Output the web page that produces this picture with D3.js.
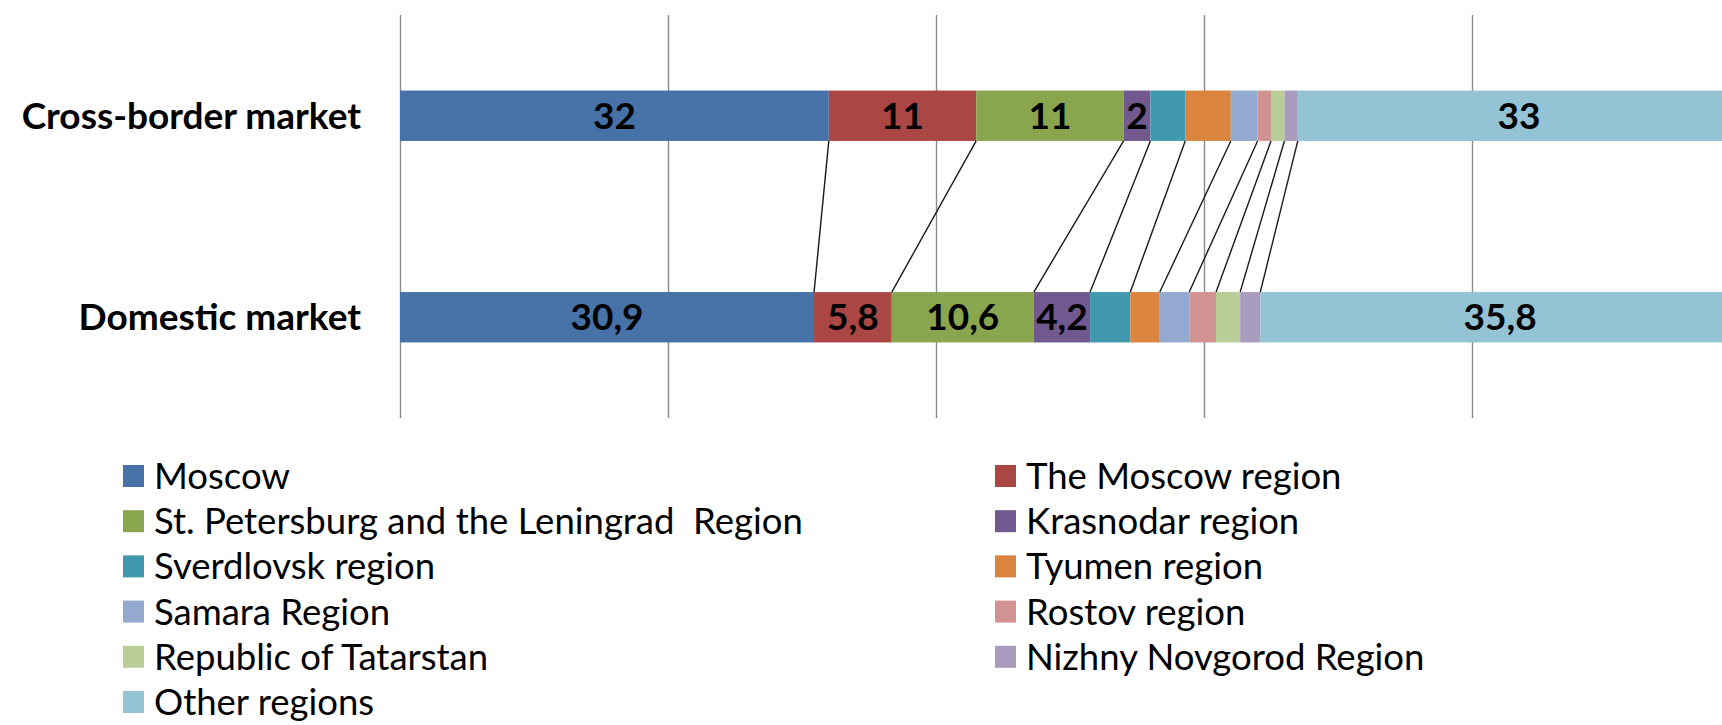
<!DOCTYPE html>
<html>
<head>
<meta charset="utf-8">
<script src="https://cdn.jsdelivr.net/npm/d3@7"></script>
<style>
  body { margin: 0; background: #fff; }
  text { font-family: Lato, "Open Sans", sans-serif; }
</style>
</head>
<body>
<div id="chart"></div>
<script>
// market shares by region, %
let markets = ["Cross-border market", "Domestic market"];
let regions = ["Moscow", "The Moscow region", "St. Petersburg and the Leningrad\u00a0 Region",
    "Krasnodar region", "Sverdlovsk region", "Tyumen region", "Samara Region",
    "Rostov region", "Republic of Tatarstan", "Nizhny Novgorod Region", "Other regions"];
let crossBorder = [32, 11, 11, 2, 2.6, 3.4, 2, 1, 1, 1, 33];
let domestic = [30.9, 5.8, 10.6, 4.2, 3.0, 2.2, 2.2, 2.0, 1.8, 1.5, 35.8];
// only these series carry a number on the bar
let labelled = ["Moscow", "The Moscow region", "St. Petersburg and the Leningrad\u00a0 Region",
    "Krasnodar region", "Other regions"];
let colors = ["#4672a8", "#aa4643", "#89a54e", "#71588f", "#4198af", "#db843d",
    "#93a9cf", "#d19392", "#b9cd96", "#a99bbd", "#93c3d4"];

let width = 1722;
let height = 725;

// build the rows the stack layout wants
let rows = [crossBorder, domestic].map(function (vals, i) {
    let r = {market: markets[i]};
    regions.forEach(function (k, j) { r[k] = vals[j]; });
    return r;
});
let series = d3.stack().keys(regions)(rows);

let x = d3.scaleLinear().domain([0, 100]).range([400, 1740]);
let y = d3.scaleBand().domain(markets).range([15, 418])
    .paddingInner(0.75).paddingOuter(0.375);
let color = d3.scaleOrdinal().domain(regions).range(colors);
let fmt = d3.formatLocale({decimal: ",", thousands: " ", grouping: [3], currency: ["", ""]}).format("~g");

let svg = d3.select("#chart").append("svg")
    .attr("width", width)
    .attr("height", height);

// vertical gridlines
let grid = svg.append("g")
    .attr("transform", "translate(0," + 418 + ")")
    .call(d3.axisBottom(x).tickValues([0, 20, 40, 60, 80, 100]).tickSize(-403).tickFormat(""));
grid.select(".domain").remove();
grid.selectAll("line").attr("stroke", "#8a8a8a").attr("stroke-width", 1.4);

// bars
let layer = svg.append("g").selectAll("g")
    .data(series)
    .join("g")
    .attr("fill", function (d) { return color(d.key); });

layer.selectAll("rect")
    .data(function (d) { return d; })
    .join("rect")
    .attr("x", function (d) { return x(d[0]); })
    .attr("y", function (d) { return y(d.data.market); })
    .attr("width", function (d) { return x(d[1]) - x(d[0]); })
    .attr("height", y.bandwidth());

// series lines joining the segment ends of the two bars
let bw = y.bandwidth();
svg.append("g").selectAll("line")
    .data(series.slice(0, series.length - 1))
    .join("line")
    .attr("x1", function (d) { return x(d[0][1]); })
    .attr("y1", y(markets[0]) + bw)
    .attr("x2", function (d) { return x(d[1][1]); })
    .attr("y2", y(markets[1]))
    .attr("stroke", "#1a1a1a")
    .attr("stroke-width", 1.4);

// value labels
let labelSize = 37;
svg.append("g").selectAll("text")
    .data(series.filter(function (s) { return labelled.indexOf(s.key) >= 0; })
        .flatMap(function (s) { return s.map(function (d) { return {key: s.key, d: d}; }); }))
    .join("text")
    .attr("x", function (o) { return (x(o.d[0]) + x(o.d[1])) / 2; })
    .attr("y", function (o) { return y(o.d.data.market) + bw / 2 + labelSize * 0.35; })
    .attr("text-anchor", "middle")
    .attr("font-size", labelSize)
    .attr("font-weight", "bold")
    .attr("fill", "#000")
    .text(function (o) { return fmt(+(o.d[1] - o.d[0]).toFixed(1)); });

// market names
svg.append("g").selectAll("text")
    .data(markets)
    .join("text")
    .attr("x", 361)
    .attr("y", function (d) { return y(d) + bw / 2 + labelSize * 0.35; })
    .attr("text-anchor", "end")
    .attr("font-size", labelSize)
    .attr("font-weight", "bold")
    .attr("fill", "#000")
    .text(function (d) { return d; });

// legend, two columns filled row by row
let legendX = [123, 995];
let legendY0 = 476;
let legendStep = 45.2;
let item = svg.append("g").selectAll("g")
    .data(regions)
    .join("g")
    .attr("transform", function (d, i) {
        return "translate(" + legendX[i % 2] + "," + (legendY0 + Math.floor(i / 2) * legendStep) + ")";
    });

item.append("rect")
    .attr("x", 0)
    .attr("y", -11)
    .attr("width", 21)
    .attr("height", 22)
    .attr("fill", function (d) { return color(d); });

item.append("text")
    .attr("x", 31)
    .attr("y", 13)
    .attr("font-size", 36.5)
    .attr("fill", "#000")
    .text(function (d) { return d; });
</script>
</body>
</html>
